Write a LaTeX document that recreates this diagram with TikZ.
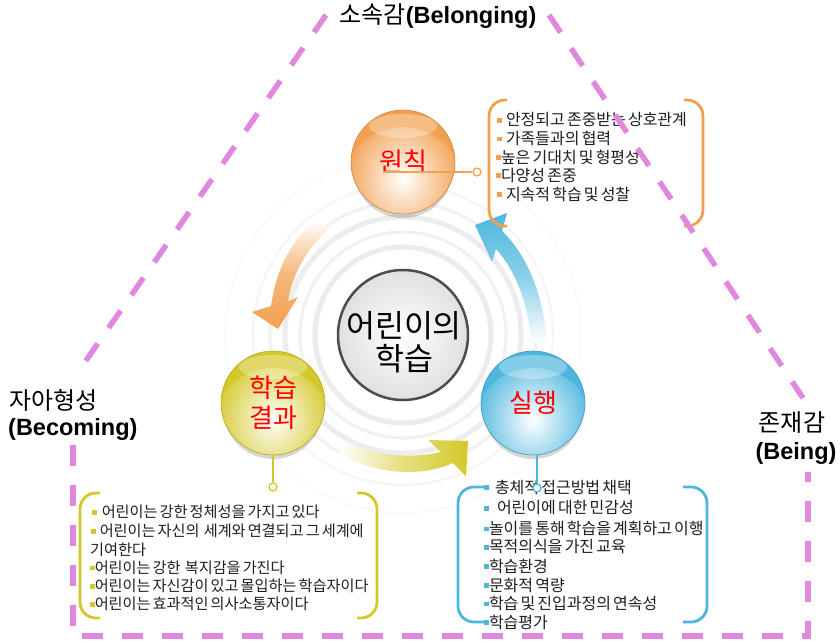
\documentclass[tikz,border=0pt]{standalone}
\usepackage{fontspec}
\setmainfont{Noto Sans CJK KR}[WordSpace=0.6]
\newfontfamily\latinb{Liberation Sans}
\usetikzlibrary{calc}
\definecolor{pinkL}{RGB}{226,135,222}
\definecolor{orA}{RGB}{242,160,80}
\definecolor{yeA}{RGB}{212,200,40}
\definecolor{blA}{RGB}{78,182,222}
\definecolor{txtC}{RGB}{30,30,30}
\newcommand\bul[1]{\textcolor{#1}{\raisebox{0.2em}{\rule{0.3em}{0.3em}}}}
\begin{document}
\begin{tikzpicture}[x=1pt,y=-1pt,
  ring/.style={gray!#1},
  sphere/.style={circle, minimum size=104pt, inner sep=0pt, draw=#1!85!black, line width=0.6pt, fill=#1,
    text=red, align=center, font=\fontsize{26}{30}\selectfont,
    path picture={
      \shade[inner color=white, outer color=#1] ($(path picture bounding box.center)+(0,25)$) circle (60pt);
      \fill[white, opacity=.3] ($(path picture bounding box.center)+(0,-36)$) ellipse (34pt and 12pt);
    }},
  shadowc/.style={fill=black, opacity=.16},
  endc/.style={circle, draw=#1, line width=1.3pt, fill=white, minimum size=8pt, inner sep=0pt},
  conn/.style={draw=#1, line width=1.3pt},
  brk/.style={draw=#1, line width=2.8pt, rounded corners=16pt},
  itemtxt/.style={anchor=west, inner sep=0pt, text=txtC, font=\fontsize{16}{18}\selectfont},
  itemtxts/.style={anchor=west, inner sep=0pt, text=txtC, font=\fontsize{15.2}{18}\selectfont},
  lbl/.style={inner sep=0pt, text=black, font=\fontsize{24}{27}\selectfont},
  pinkdash/.style={draw=pinkL, line width=5.5pt, dash pattern=on 21pt off 19pt}
]
\useasboundingbox (0,0) rectangle (840,643);
\fill[white] (0,0) rectangle (840,643);

% concentric rings
\foreach \r/\w/\c in {88/5/15, 103/3/11, 118/5/14, 133/3/10, 150/2/8, 178/1.5/5}
  \draw[ring=\c, line width=\w pt] (403,335) circle (\r);

% arrows
\shade[top color=white, bottom color=orA, middle color=orA!75!white]
  (317,219) .. controls (292,240) and (277,266) .. (271,306) -- (252,312) -- (278,329)
  -- (298,297) -- (288,301) .. controls (293,273) and (306,250) .. (328,230) -- cycle;
\shade[left color=white, right color=yeA, middle color=yeA!60!white]
  (345,441) .. controls (372,456) and (410,459) .. (441,452) -- (428,440) -- (468,441)
  -- (466,476) -- (453,463) .. controls (420,478) and (372,474) .. (339,453) -- cycle;
\shade[bottom color=white, top color=blA, middle color=blA!65!white]
  (502,231) .. controls (526,254) and (543,292) .. (547,342) -- (531,342)
  .. controls (528,302) and (515,270) .. (496,249) -- (492,262) -- (475,225) -- (507,213) -- cycle;

% centre
\node[circle, minimum size=130pt, inner sep=0pt, draw=black!70, line width=2.5pt,
      inner color=white, outer color=black!12] (c) at (403,335) {};
\node[align=center, inner sep=0pt, font=\fontsize{31.5}{33}\selectfont] (ct) at (404,342) {어린이의\\학습};

% spheres
\fill[shadowc] (403,168) circle (50);
\fill[shadowc] (273,409) circle (50);
\fill[shadowc] (533,409) circle (50);
\node[sphere=orA] (p) at (403,162) {원칙};
\node[sphere=yeA] (y) at (273,403) {학습\\결과};
\node[sphere=blA] (b) at (533,403) {실행};

% connectors
\node[endc=orA] (oc) at (477,172) {};
\coordinate (os) at (383,172);
\draw[conn=orA] (os) -- (oc);
\node[endc=yeA] (yc) at (273,487) {};
\draw[conn=yeA] (y.south) -- (yc);

% orange list
\node[itemtxt] (o1) at (497,120) {\bul{orA}\hspace{4pt}안정되고 존중받는 상호관계};
\node[itemtxt] (o2) at (497,138.5) {\bul{orA}\hspace{4pt}가족들과의 협력};
\node[itemtxt] (o3) at (496,157) {\bul{orA}높은 기대치 및 형평성};
\node[itemtxt] (o4) at (496,175.5) {\bul{orA}다양성 존중};
\node[itemtxt] (o5) at (497,194) {\bul{orA}\hspace{4pt}지속적 학습 및 성찰};

% yellow list
\node[itemtxts] (y1) at (92,512) {\bul{yeA}\hspace{5pt}어린이는 강한 정체성을 가지고 있다};
\node[itemtxts] (y2) at (91,531) {\bul{yeA}\hspace{4pt}어린이는 자신의\ \ 세계와 연결되고 그 세계에};
\node[itemtxts] (y3) at (90,549.5) {기여한다};
\node[itemtxts] (y4) at (90,567.5) {\bul{yeA}어린이는 강한\ \ 복지감을 가진다};
\node[itemtxts] (y5) at (90,586) {\bul{yeA}어린이는 자신감이 있고 몰입하는 학습자이다};
\node[itemtxts] (y6) at (90,604) {\bul{yeA}어린이는 효과적인 의사소통자이다};

% blue list (clipped at the right bracket as in the original)
\begin{scope}
\clip (0,0) rectangle (705,643);
\node[itemtxt] (b1) at (484,487) {\bul{blA}\hspace{6pt}총체적 접근방법 채택};
\node[itemtxt] (b2) at (484,508) {\bul{blA}\hspace{8pt}어린이에 대한 민감성};
\node[itemtxt] (b3) at (484,528.5) {\bul{blA}놀이를 통해 학습을 계획하고 이행};
\node[itemtxt] (b4) at (484,547) {\bul{blA}목적의식을 가진 교육};
\node[itemtxt] (b5) at (484,566) {\bul{blA}학습환경};
\node[itemtxt] (b6) at (484,585) {\bul{blA}문화적 역량};
\node[itemtxt] (b7) at (484,603.5) {\bul{blA}학습 및 진입과정의 연속성};
\node[itemtxt] (b8) at (484,622) {\bul{blA}학습평가};
\end{scope}
\node[endc=blA] (bc) at (537,488) {};
\draw[conn=blA] (bc) -- (bc |- b.south);

% brackets
\draw[brk=orA] (507,100) -- (489,100) -- (489,226) -- (507,226);
\draw[brk=orA] (684,100) -- (703,100) -- (703,226) -- (684,226);
\draw[brk=yeA] (100,493) -- (80,493) -- (80,618) -- (100,618);
\draw[brk=yeA] (357,493) -- (377,493) -- (377,618) -- (357,618);
\draw[brk=blA] (485,487) -- (458,487) -- (458,622) -- (485,622);
\draw[brk=blA] (683,487) -- (707,487) -- (707,622) -- (683,622);

% pink dashed triangle
\draw[pinkdash] (326,15) -- (78,372);
\draw[pinkdash] (549,15) -- (803,398);
\draw[pinkdash] (73,445) -- (73,636) -- (808,636) -- (808,472);

% labels
\node[lbl] (top) at (438,16) {소속감{\latinb\bfseries\fontsize{23.5}{27}\selectfont(Belonging)}};
\node[lbl, anchor=west] (l1) at (9,400) {자아형성};
\node[lbl, anchor=west] (l2) at (8,429) {\latinb\bfseries\fontsize{23.5}{27}\selectfont(Becoming)};
\node[lbl] (r1) at (792,423) {존재감};
\node[lbl] (r2) at (796,453) {\latinb\bfseries\fontsize{23.5}{27}\selectfont(Being)};
\end{tikzpicture}
\end{document}
